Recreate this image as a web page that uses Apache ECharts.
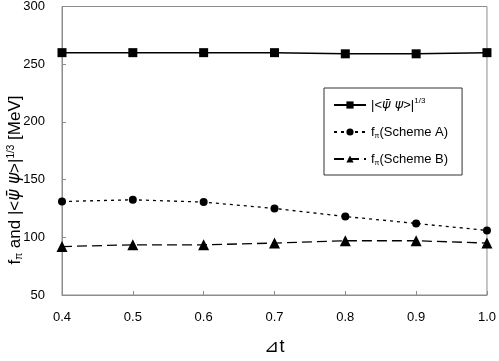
<!DOCTYPE html>
<html>
<head>
<meta charset="utf-8">
<script src="https://cdn.jsdelivr.net/npm/echarts@6/dist/echarts.min.js"></script>
<style>
html, body { margin: 0; padding: 0; background: #fff; }
#main { width: 499px; height: 361px; }
</style>
</head>
<body>
<div id="main"></div>
<script>
var deltaT = [0.4, 0.5, 0.6, 0.7, 0.8, 0.9, 1.0];
var condensate = [260, 260, 260, 260, 259, 259, 260];
var fpiSchemeA = [131, 132.5, 130.5, 125, 118, 112, 106];
var fpiSchemeB = [92, 93.5, 93.5, 95, 97, 97, 95];

function pairs(xs, ys) {
    return xs.map(function (x, i) { return [x, ys[i]]; });
}

var font = 'Liberation Sans, Arial, sans-serif';
var psiFont = 'DejaVu Sans';
var myChart = echarts.init(document.getElementById('main'));
var option = {
    animation: false,
    backgroundColor: '#fff',
    textStyle: { fontFamily: font, color: '#000' },
    grid: {
        left: 62, right: 8, top: 6, bottom: 60,
        show: true, borderColor: '#8c8c8c', borderWidth: 1
    },
    legend: {
        orient: 'vertical',
        left: 324,
        top: 88,
        padding: [9, 14, 8, 9],
        itemGap: 11,
        itemWidth: 32,
        itemHeight: 9,
        backgroundColor: '#fff',
        borderColor: '#333',
        borderWidth: 1,
        textStyle: {
            fontSize: 13,
            lineHeight: 16,
            color: '#000',
            fontFamily: font,
            rich: {
                psi: { fontSize: 13, fontFamily: psiFont, fontStyle: 'italic', lineHeight: 16 },
                sub: { fontSize: 7, verticalAlign: 'bottom', lineHeight: 16, padding: [5, 0, 0, 0], fontFamily: font },
                sup: { fontSize: 8, verticalAlign: 'top', lineHeight: 16, padding: [0, 0, 5, 0], fontFamily: font }
            }
        },
        formatter: function (name) {
            if (name === 'cond') return '|<{psi|ψ̄ ψ}>|{sup|1/3}';
            if (name === 'A') return 'f{sub|π}(Scheme A)';
            return 'f{sub|π}(Scheme B)';
        }
    },
    xAxis: {
        type: 'value',
        min: 0.4, max: 1.0, interval: 0.1,
        name: '⊿t',
        nameLocation: 'middle',
        nameGap: 43,
        nameTextStyle: { fontSize: 18, color: '#000', fontFamily: font },
        axisLine: { lineStyle: { color: '#8c8c8c' } },
        axisTick: { inside: true, length: 4, lineStyle: { color: '#8c8c8c' } },
        axisLabel: {
            margin: 16, fontSize: 13, color: '#000',
            formatter: function (v) { return v.toFixed(1); }
        },
        splitLine: { show: false }
    },
    yAxis: {
        type: 'value',
        min: 50, max: 300, interval: 50,
        axisLine: { show: true, lineStyle: { color: '#8c8c8c' } },
        axisTick: { show: true, inside: true, length: 4, lineStyle: { color: '#8c8c8c' } },
        axisLabel: { margin: 17, fontSize: 13, color: '#000' },
        splitLine: { show: false }
    },
    graphic: [{
        type: 'text',
        x: 15,
        y: 180,
        rotation: Math.PI / 2,
        style: {
            text: 'f{sub|π} and |<{psi|ψ̄ ψ}>|{sup|1/3} [MeV]',
            fill: '#000',
            fontSize: 17,
            fontFamily: font,
            textAlign: 'center',
            textVerticalAlign: 'middle',
            align: 'center',
            verticalAlign: 'middle',
            rich: {
                psi: { fontSize: 17, fontFamily: psiFont, fontStyle: 'italic' },
                sub: { fontSize: 10, verticalAlign: 'bottom', padding: [7, 0, 0, 0], fontFamily: font },
                sup: { fontSize: 10, verticalAlign: 'top', padding: [0, 0, 8, 0], fontFamily: font }
            }
        }
    }],
    series: [
        {
            name: 'cond',
            type: 'line',
            data: pairs(deltaT, condensate),
            symbol: 'rect',
            symbolSize: 9,
            itemStyle: { color: '#000' },
            lineStyle: { color: '#000', width: 1.5 }
        },
        {
            name: 'A',
            type: 'line',
            data: pairs(deltaT, fpiSchemeA),
            symbol: 'circle',
            symbolSize: 8,
            itemStyle: { color: '#000' },
            lineStyle: { color: '#000', width: 1.3, type: [3, 4] }
        },
        {
            name: 'B',
            type: 'line',
            data: pairs(deltaT, fpiSchemeB),
            symbol: 'triangle',
            symbolSize: 11,
            itemStyle: { color: '#000' },
            lineStyle: { color: '#000', width: 1.3, type: [10, 5] }
        }
    ]
};
myChart.setOption(option);
</script>
</body>
</html>
